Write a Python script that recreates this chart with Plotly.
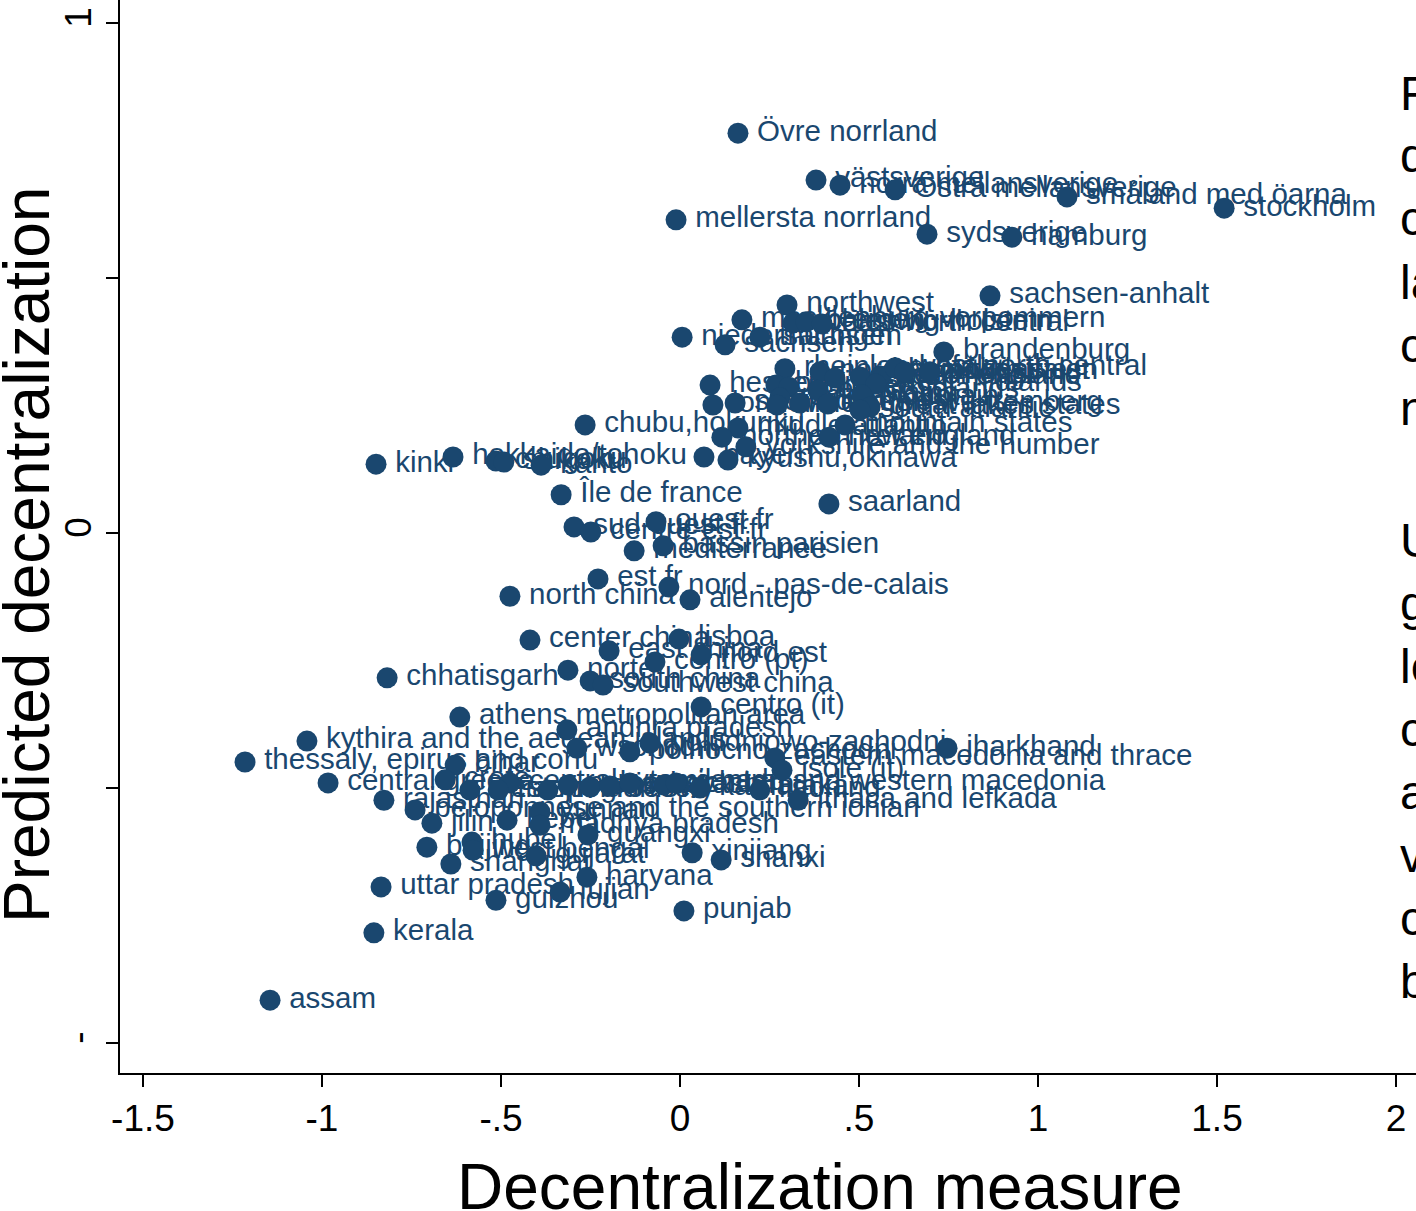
import plotly.graph_objects as go

# Regions: name, decentralization measure, predicted decentralization
regions = [
    "Övre norrland", "västsverige", "norra mellansverige", "Östra mellansverige",
    "småland med öarna", "stockholm", "mellersta norrland", "sydsverige", "hamburg",
    "sachsen-anhalt", "northwest", "mecklenburg-vorpommern", "schleswig-holstein",
    "bremen", "east north central", "niedersachsen", "sachsen", "thüringen",
    "brandenburg", "rheinland-pfalz", "nordrhein-westfalen", "pacific",
    "east of england", "south east", "west north central", "southeast", "south west",
    "hessen", "berlin", "north east", "east midlands", "west midlands", "plains",
    "rocky mountain", "london", "scotland", "wales", "north west",
    "baden-württemberg", "great lakes states", "south atlantic", "middle atlantic",
    "mountain states", "northern ireland", "new england", "yorkshire and the humber",
    "chubu,hokuriku", "hokkaido/tohoku", "chugoku", "shikoku", "kanto", "bayern",
    "kyushu,okinawa", "kinki", "Île de france", "saarland", "sud-ouest fr",
    "centre-est fr", "ouest fr", "bassin parisien", "mediterranee", "est fr",
    "nord - pas-de-calais", "north china", "alentejo", "center china", "lisboa",
    "east china", "nord est", "norte", "centro (pt)", "south china",
    "southwest china", "chhatisgarh", "centro (it)", "athens metropolitan area",
    "andhra pradesh", "kythira and the aegean islands", "wschodni",
    "poludniowo-zachodni", "polnocno-zachodni", "jharkhand",
    "eastern macedonia and thrace", "isole (it)", "thessaly, epirus and corfu",
    "bihar", "central greece", "crete", "western greece", "centralny", "tianjin",
    "poludniowy", "polnocny", "orissa", "maharashtra", "tamil nadu", "sichuan",
    "central and western macedonia", "karnataka", "liaoning", "ithaca and lefkada",
    "rajasthan", "peloponnese and the southern ionian", "yunnan", "jilin", "hebei",
    "madhya pradesh", "guangxi", "beijing", "hubei", "west bengal", "gujarat",
    "shanghai", "xinjiang", "shanxi", "haryana", "uttar pradesh", "fujian",
    "guizhou", "punjab", "kerala", "assam",
]

decentralization = [
    0.162, 0.380, 0.447, 0.601,
    1.081, 1.520, -0.011, 0.690, 0.927,
    0.866, 0.299, 0.173, 0.316,
    0.352, 0.397, 0.006, 0.126, 0.223,
    0.737, 0.293, 0.391, 0.433,
    0.503, 0.559, 0.601, 0.628, 0.698,
    0.084, 0.268, 0.304, 0.385, 0.547, 0.508,
    0.279, 0.092, 0.154, 0.271, 0.335,
    0.413, 0.531, 0.503, 0.162,
    0.461, 0.117, 0.416, 0.184,
    -0.265, -0.634, -0.514, -0.492, -0.388, 0.067,
    0.134, -0.849, -0.332, 0.416, -0.296,
    -0.249, -0.067, -0.047, -0.128, -0.229,
    -0.031, -0.475, 0.028, -0.419, -0.003,
    -0.198, 0.059, -0.313, -0.070, -0.251,
    -0.215, -0.818, 0.059, -0.615,
    -0.316, -1.042, -0.288,
    -0.084, -0.140, 0.746,
    0.265, 0.285, -1.215,
    -0.628, -0.983, -0.656, -0.587, -0.475, -0.508,
    -0.369, -0.313, -0.251, -0.196, -0.140, -0.045,
    -0.011, 0.056, 0.223, 0.330,
    -0.827, -0.740, -0.391, -0.693, -0.483,
    -0.391, -0.257, -0.707, -0.581, -0.578, -0.402,
    -0.640, 0.034, 0.115, -0.260, -0.835, -0.335,
    -0.514, 0.011, -0.855, -1.145,
]

predicted = [
    0.784, 0.692, 0.682, 0.673,
    0.659, 0.637, 0.614, 0.586, 0.580,
    0.465, 0.447, 0.418, 0.412,
    0.414, 0.410, 0.384, 0.369, 0.384,
    0.355, 0.322, 0.316, 0.304,
    0.306, 0.308, 0.324, 0.316, 0.316,
    0.290, 0.290, 0.286, 0.280, 0.292, 0.271,
    0.265, 0.251, 0.255, 0.251, 0.255,
    0.253, 0.247, 0.241, 0.206,
    0.212, 0.188, 0.188, 0.169,
    0.212, 0.149, 0.141, 0.139, 0.133, 0.149,
    0.143, 0.135, 0.075, 0.057, 0.012,
    0.002, 0.022, -0.025, -0.035, -0.090,
    -0.106, -0.124, -0.131, -0.210, -0.208,
    -0.231, -0.239, -0.269, -0.253, -0.290,
    -0.298, -0.284, -0.341, -0.361,
    -0.386, -0.408, -0.422,
    -0.412, -0.429, -0.422,
    -0.441, -0.465, -0.449,
    -0.455, -0.490, -0.484, -0.504, -0.490, -0.504,
    -0.504, -0.494, -0.498, -0.496, -0.490, -0.494,
    -0.490, -0.500, -0.504, -0.524,
    -0.524, -0.543, -0.547, -0.569, -0.563,
    -0.573, -0.592, -0.616, -0.606, -0.622, -0.633,
    -0.649, -0.627, -0.641, -0.675, -0.694, -0.704,
    -0.720, -0.741, -0.784, -0.916,
]

x_tickvals = [-1.5, -1, -0.5, 0, 0.5, 1, 1.5, 2]
x_ticktext = ["-1.5", "-1", "-.5", "0", ".5", "1", "1.5", "2"]
y_tickvals = [-1, -0.5, 0, 0.5, 1]
y_ticktext = ["-", "", "0", "", "1"]

note_lines_1 = ["For each", "decentralization", "computed", "latitude", "controlling", "national"]
note_lines_2 = ["Units", "geographic", "level", "country", "averaged", "values", "countries", "by"]

NAVY = "#1a476f"
FONT = "Liberation Sans, Arial, sans-serif"
W, H = 1416, 1211
L, B = 120, 138
X_RANGE = [-1.5642, 2.0559]
Y_RANGE = [-1.0588, 1.0451]


def paper_x(px):
    return (px - L) / (W - L)


def paper_y(py):
    return (H - B - py) / (H - B)


fig = go.Figure()

# labels (drawn beneath the dots), offset to the right of each point
fig.add_trace(go.Scatter(
    x=decentralization, y=predicted, mode="markers+text", text=regions,
    textposition="middle right",
    marker=dict(size=29, color="rgba(0,0,0,0)"),
    textfont=dict(family=FONT, size=29.5, color=NAVY),
    hoverinfo="skip", cliponaxis=False,
))

# dots
fig.add_trace(go.Scatter(
    x=decentralization, y=predicted, mode="markers",
    marker=dict(size=21, color=NAVY, line=dict(width=0)),
    hovertext=regions, hoverinfo="text",
))

axis_common = dict(
    showgrid=False, zeroline=False, showline=True, linecolor="black", linewidth=2,
    ticks="outside", ticklen=12, tickwidth=2, tickcolor="black",
    tickfont=dict(family=FONT, size=37, color="black"),
)
fig.update_xaxes(range=X_RANGE, tickmode="array", tickvals=x_tickvals,
                 ticktext=x_ticktext, **axis_common)
fig.update_yaxes(range=Y_RANGE, tickmode="array", tickvals=y_tickvals,
                 ticktext=y_ticktext, tickangle=-90, **axis_common)

annotations = [
    dict(text="Decentralization measure", xref="paper", yref="paper",
         x=paper_x(820), y=paper_y(1187), xanchor="center", yanchor="middle",
         showarrow=False, font=dict(family=FONT, size=64, color="black")),
    dict(text="Predicted decentralization", xref="paper", yref="paper",
         x=paper_x(27), y=paper_y(555), xanchor="center", yanchor="middle",
         textangle=-90, showarrow=False,
         font=dict(family=FONT, size=64, color="black")),
]

for i, line in enumerate(note_lines_1):
    annotations.append(dict(
        text=line, xref="paper", yref="paper", x=paper_x(1398), y=paper_y(93 + 63 * i),
        xanchor="left", yanchor="middle", showarrow=False,
        font=dict(family=FONT, size=48, color="black")))
for i, line in enumerate(note_lines_2):
    annotations.append(dict(
        text=line, xref="paper", yref="paper", x=paper_x(1398), y=paper_y(540 + 63 * i),
        xanchor="left", yanchor="middle", showarrow=False,
        font=dict(family=FONT, size=48, color="black")))

fig.update_layout(
    width=W, height=H,
    margin=dict(l=L, r=0, t=0, b=B, pad=0),
    plot_bgcolor="white", paper_bgcolor="white",
    showlegend=False,
    annotations=annotations,
)

fig.write_html("out.html")
